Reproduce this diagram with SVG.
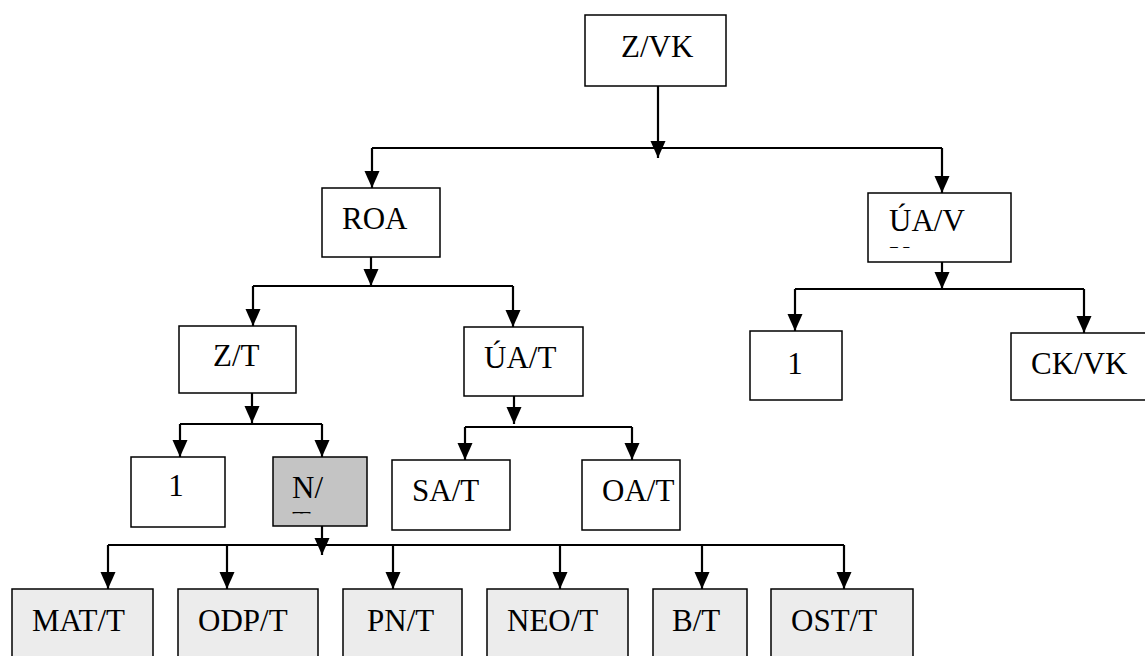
<svg xmlns="http://www.w3.org/2000/svg" width="1145" height="656" viewBox="0 0 1145 656">
<style>
.box{fill:#ffffff;stroke:#000;stroke-width:1.5}
.lite{fill:#ececec;stroke:#000;stroke-width:1.5}
.dark{fill:#c4c4c4;stroke:#000;stroke-width:1.5}
.t{font-family:"Liberation Serif","Times New Roman",serif;font-size:31px;fill:#000}
.c{fill:none;stroke:#000;stroke-width:2.2}
</style>
<defs>
<marker id="ah" markerUnits="userSpaceOnUse" markerWidth="18" markerHeight="18" viewBox="0 0 18 18" refX="17" refY="9" orient="auto">
<path d="M0,1.5 L17,9 L0,16.5 Z" fill="#000"/>
</marker>
<clipPath id="clipUAV"><rect x="868" y="193" width="143" height="55"/></clipPath>
<clipPath id="clipN"><rect x="273" y="457" width="94" height="56.5"/></clipPath>
</defs>
<rect width="1145" height="656" fill="#fff"/>

<g id="connectors">
<path class="c" d="M658,86 V158" marker-end="url(#ah)"/>
<path class="c" d="M372,148 H942"/>
<path class="c" d="M372,148 V188" marker-end="url(#ah)"/>
<path class="c" d="M942,148 V193" marker-end="url(#ah)"/>
<path class="c" d="M371,257 V286" marker-end="url(#ah)"/>
<path class="c" d="M253,286 H513"/>
<path class="c" d="M253,286 V326" marker-end="url(#ah)"/>
<path class="c" d="M513,286 V327" marker-end="url(#ah)"/>
<path class="c" d="M942,262 V289" marker-end="url(#ah)"/>
<path class="c" d="M795,289 H1084"/>
<path class="c" d="M795,289 V331" marker-end="url(#ah)"/>
<path class="c" d="M1084,289 V333" marker-end="url(#ah)"/>
<path class="c" d="M252,393 V423" marker-end="url(#ah)"/>
<path class="c" d="M180,424 H322"/>
<path class="c" d="M180,424 V457" marker-end="url(#ah)"/>
<path class="c" d="M322,424 V457" marker-end="url(#ah)"/>
<path class="c" d="M514,396 V424" marker-end="url(#ah)"/>
<path class="c" d="M465,427 H632"/>
<path class="c" d="M465,427 V460" marker-end="url(#ah)"/>
<path class="c" d="M632,427 V460" marker-end="url(#ah)"/>
<path class="c" d="M322,526 V555" marker-end="url(#ah)"/>
<path class="c" d="M108,545 H844"/>
<path class="c" d="M108,545 V589" marker-end="url(#ah)"/>
<path class="c" d="M227,545 V589" marker-end="url(#ah)"/>
<path class="c" d="M393,545 V589" marker-end="url(#ah)"/>
<path class="c" d="M560,545 V589" marker-end="url(#ah)"/>
<path class="c" d="M702,545 V589" marker-end="url(#ah)"/>
<path class="c" d="M844,545 V589" marker-end="url(#ah)"/>
</g>

<g id="n-zvk"><rect class="box" x="585" y="15" width="141" height="71"/><text class="t" x="621" y="57">Z/VK</text></g>
<g id="n-roa"><rect class="box" x="322" y="188" width="118" height="69"/><text class="t" x="342" y="229">ROA</text></g>
<g id="n-uav"><rect class="box" x="868" y="193" width="143" height="69"/><g clip-path="url(#clipUAV)"><text class="t" x="889" y="231">ÚA/V</text><text class="t" x="889" y="267.5">K</text></g></g>
<g id="n-zt"><rect class="box" x="179" y="326" width="117" height="67"/><text class="t" x="213" y="366">Z/T</text></g>
<g id="n-uat"><rect class="box" x="464" y="327" width="119" height="69"/><text class="t" x="484" y="368">ÚA/T</text></g>
<g id="n-1r"><rect class="box" x="750" y="331" width="92" height="69"/><text class="t" x="795" y="374" text-anchor="middle">1</text></g>
<g id="n-ckvk"><rect class="box" x="1011" y="333" width="140" height="67"/><text class="t" x="1031" y="374">CK/VK</text></g>
<g id="n-1l"><rect class="box" x="131" y="457" width="94" height="70"/><text class="t" x="176" y="496" text-anchor="middle">1</text></g>
<g id="n-nt"><rect class="dark" x="273" y="457" width="94" height="69"/><g clip-path="url(#clipN)"><text class="t" x="292" y="498">N/</text><text class="t" x="292" y="533">T</text></g></g>
<g id="n-sat"><rect class="box" x="392" y="460" width="118" height="70"/><text class="t" x="412" y="501">SA/T</text></g>
<g id="n-oat"><rect class="box" x="582" y="460" width="98" height="70"/><text class="t" x="602" y="501">OA/T</text></g>

<g id="n-matt"><rect class="lite" x="12" y="589" width="141" height="72"/><text class="t" x="32" y="631">MAT/T</text></g>
<g id="n-odpt"><rect class="lite" x="178" y="589" width="140" height="72"/><text class="t" x="198" y="631">ODP/T</text></g>
<g id="n-pnt"><rect class="lite" x="343" y="589" width="119" height="72"/><text class="t" x="367" y="631">PN/T</text></g>
<g id="n-neot"><rect class="lite" x="487" y="589" width="141" height="72"/><text class="t" x="507" y="631">NEO/T</text></g>
<g id="n-bt"><rect class="lite" x="653" y="589" width="94" height="72"/><text class="t" x="672" y="631">B/T</text></g>
<g id="n-ostt"><rect class="lite" x="771" y="589" width="142" height="72"/><text class="t" x="791" y="631">OST/T</text></g>
</svg>
